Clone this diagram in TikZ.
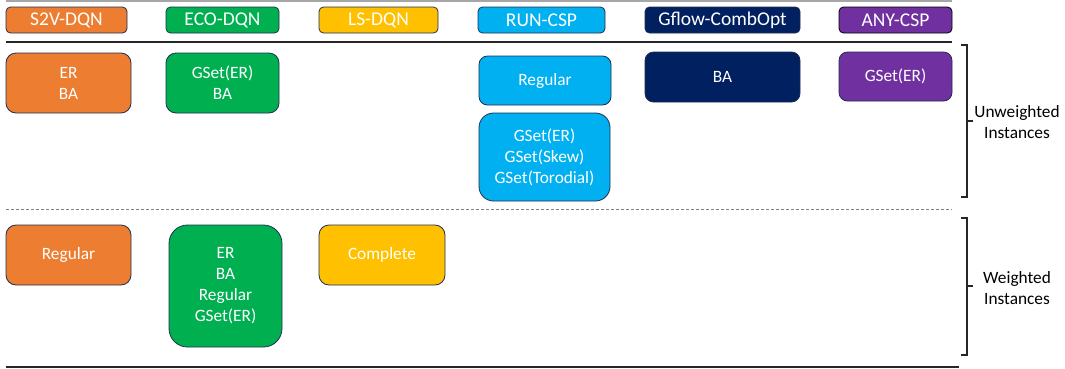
\documentclass[tikz,border=0pt]{standalone}
\usepackage{fontspec}
\setmainfont{Carlito}
\definecolor{cOrange}{HTML}{ED7D31}
\definecolor{cGreen}{HTML}{00B050}
\definecolor{cYellow}{HTML}{FFC000}
\definecolor{cBlue}{HTML}{00B0F0}
\definecolor{cNavy}{HTML}{002060}
\definecolor{cPurple}{HTML}{7030A0}
\definecolor{cEdge}{HTML}{1F2F50}
\definecolor{cRule}{HTML}{262626}
\definecolor{cGrayRule}{HTML}{A6A6A6}
\definecolor{cDash}{HTML}{808080}
\tikzset{
  x=1pt, y=-1pt,
  boxbase/.style={draw=cEdge, line width=0.8pt, text=white, align=center, inner sep=0pt},
  header/.style={boxbase, rounded corners=4.5pt, minimum height=26pt,
    font=\fontsize{19.5}{23}\selectfont},
  entry/.style={boxbase, font=\fontsize{17.3}{21}\selectfont},
  rule/.style={cRule, line width=2pt},
  bracket/.style={cRule, line width=1.4pt},
  sidelabel/.style={align=center, font=\fontsize{17.3}{21}\selectfont, text=black}
}
\begin{document}
\begin{tikzpicture}
\useasboundingbox (0,0) rectangle (1065,368);

% horizontal rules
\coordinate (topL) at (6,1);    \coordinate (topR) at (952,1);
\coordinate (midL) at (6,42);   \coordinate (midR) at (952,42);
\coordinate (dshL) at (6,209);  \coordinate (dshR) at (952,209);
\coordinate (botL) at (6,367);  \coordinate (botR) at (959,367);
\draw[cGrayRule, line width=1.5pt] (topL) -- (topR);
\draw[rule] (midL) -- (midR);
\draw[cDash, line width=1pt, dash pattern=on 3pt off 2pt] (dshL) -- (dshR);
\draw[rule] (botL) -- (botR);

% method headers
\node[header, fill=cOrange, minimum width=121pt] (hS2V)   at (66.5,20)  {S2V-DQN};
\node[header, fill=cGreen,  minimum width=113pt] (hECO)   at (222.5,20) {ECO-DQN};
\node[header, fill=cYellow, minimum width=119pt] (hLS)    at (378.5,20) {LS-DQN};
\node[header, fill=cBlue,   minimum width=127pt] (hRUN)   at (541.5,20) {RUN-CSP};
\node[header, fill=cNavy,   minimum width=155pt] (hGflow) at (722.5,20) {Gflow-CombOpt};
\node[header, fill=cPurple, draw=black, minimum width=113pt] (hANY) at (895.5,20) {ANY-CSP};

% unweighted instances
\node[entry, fill=cOrange, rounded corners=10pt, minimum width=125pt, minimum height=60pt] (uS2V) at (68.5,83) {ER\\BA};
\node[entry, fill=cGreen, rounded corners=10pt, minimum width=113pt, minimum height=60pt] (uECO) at (222.5,83) {GSet(ER)\\BA};
\node[entry, fill=cBlue, rounded corners=8.5pt, minimum width=132pt, minimum height=49pt] (uRUNa) at (545,80.5) {Regular};
\node[entry, fill=cBlue, rounded corners=14.5pt, minimum width=131pt, minimum height=88pt] (uRUNb) at (544.5,157) {GSet(ER)\\GSet(Skew)\\GSet(Torodial)};
\node[entry, fill=cNavy, rounded corners=8.5pt, minimum width=155pt, minimum height=50pt] (uGflow) at (722.5,77) {BA};
\node[entry, fill=cPurple, rounded corners=8.5pt, minimum width=113pt, minimum height=49pt] (uANY) at (895.5,76.5) {GSet(ER)};

% weighted instances
\node[entry, fill=cOrange, rounded corners=10pt, minimum width=125pt, minimum height=60pt] (wS2V) at (68.5,255) {Regular};
\node[entry, fill=cGreen, rounded corners=18.5pt, minimum width=113pt, minimum height=122pt] (wECO) at (225.5,286) {ER\\BA\\Regular\\GSet(ER)};
\node[entry, fill=cYellow, rounded corners=10pt, minimum width=126pt, minimum height=60pt] (wLS) at (382,255) {Complete};

% brackets with their labels
\coordinate (ubTop) at (961,45);  \coordinate (ubBot) at (961,197);
\coordinate (ubMid) at (967,121); \coordinate (ubTip) at (973,121);
\draw[bracket] (ubTop) -| (ubMid) |- (ubBot);
\draw[bracket] (ubMid) -- (ubTip);
\node[sidelabel] (lblU) at (1017,122) {Unweighted\\Instances};

\coordinate (wbTop) at (961,218); \coordinate (wbBot) at (961,355);
\coordinate (wbMid) at (967,286); \coordinate (wbTip) at (973,286);
\draw[bracket] (wbTop) -| (wbMid) |- (wbBot);
\draw[bracket] (wbMid) -- (wbTip);
\node[sidelabel] (lblW) at (1017,288) {Weighted\\Instances};
\end{tikzpicture}
\end{document}
